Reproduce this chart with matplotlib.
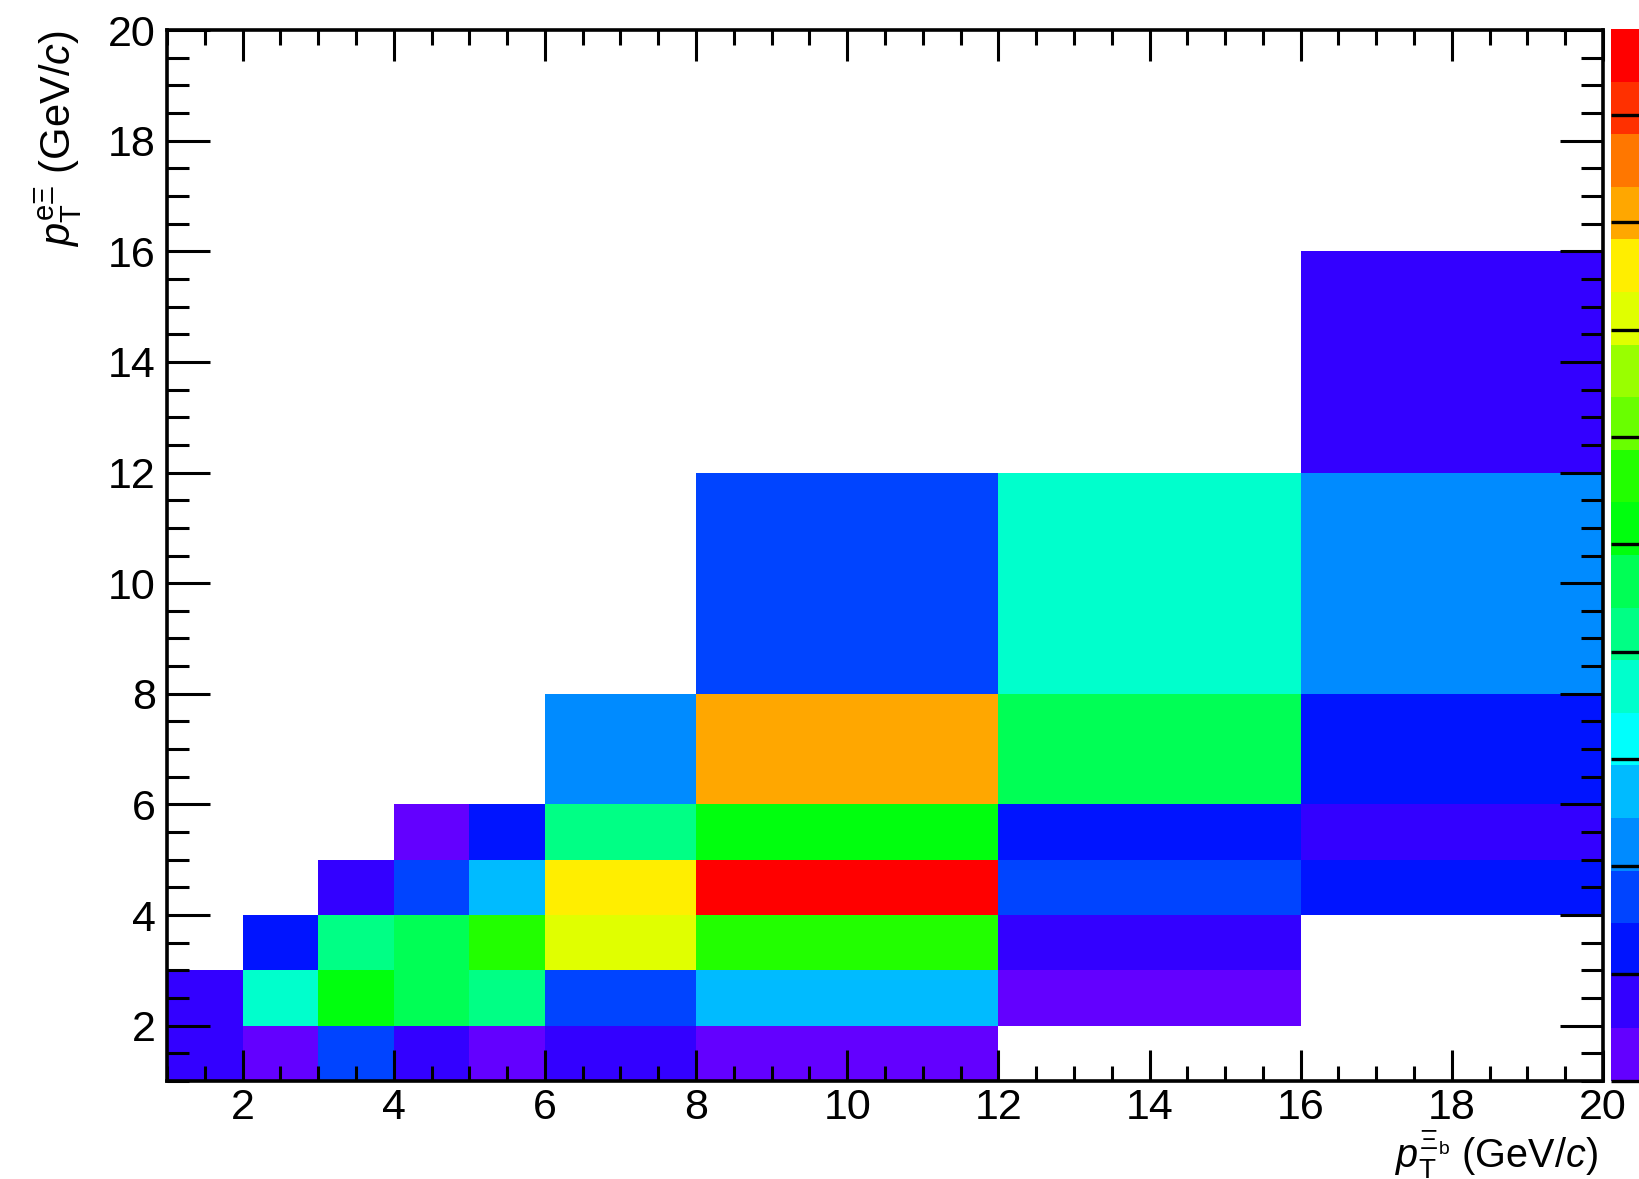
import colorsys
import numpy as np
import matplotlib
matplotlib.use("Agg")
import matplotlib.pyplot as plt
from matplotlib.colors import ListedColormap, BoundaryNorm
from matplotlib.ticker import MultipleLocator

plt.rcParams['font.family'] = ['Liberation Sans', 'DejaVu Sans']
plt.rcParams['mathtext.fontset'] = 'custom'
plt.rcParams['mathtext.rm'] = 'Liberation Sans'
plt.rcParams['mathtext.it'] = 'Liberation Sans:italic'
plt.rcParams['mathtext.bf'] = 'Liberation Sans:bold'

# ---- data ----
x_edges = [1, 2, 3, 4, 5, 6, 8, 12, 16, 20]
y_edges = [1, 2, 3, 4, 5, 6, 8, 12, 16, 20]
nan = np.nan
# rows: y bins (bottom -> top), columns: x bins (left -> right)
row_y1_2   = [0.74, 0.25, 1.7, 0.74, 0.25, 0.74, 0.25, nan, nan]
row_y2_3   = [0.74, 3.7, 5.15, 4.65, 4.2, 1.7, 2.7, 0.25, nan]
row_y3_4   = [nan, 1.2, 4.2, 4.65, 5.6, 7.1, 5.6, 0.74, nan]
row_y4_5   = [nan, nan, 0.74, 1.7, 2.7, 7.6, 9.6, 1.7, 1.2]
row_y5_6   = [nan, nan, nan, 0.25, 1.2, 4.2, 5.15, 1.2, 0.74]
row_y6_8   = [nan, nan, nan, nan, nan, 2.2, 8.1, 4.65, 1.2]
row_y8_12  = [nan, nan, nan, nan, nan, nan, 1.7, 3.7, 2.2]
row_y12_16 = [nan, nan, nan, nan, nan, nan, nan, nan, 0.74]
row_y16_20 = [nan, nan, nan, nan, nan, nan, nan, nan, nan]
z_min, z_max, n_contours = 0.0, 9.8, 20
cbar_ticks = [0, 1, 2, 3, 4, 5, 6, 7, 8, 9]
x_ticks = [2, 4, 6, 8, 10, 12, 14, 16, 18, 20]
y_ticks = [2, 4, 6, 8, 10, 12, 14, 16, 18, 20]

Z = np.ma.masked_invalid(np.array([row_y1_2, row_y2_3, row_y3_4, row_y4_5, row_y5_6,
                                   row_y6_8, row_y8_12, row_y12_16, row_y16_20]))

# ROOT "pretty" palette (HLS hues 280 -> 0), 20 contours
hues = [280 - (i + 1) * 280 / 50 for i in range(50)]
pal = [colorsys.hls_to_rgb(h / 360.0, 0.5, 1.0) for h in hues]
cols = [pal[int((j + 0.99) * 50 / n_contours)] for j in range(n_contours)]
cmap = ListedColormap(cols)
levels = np.linspace(z_min, z_max, n_contours + 1)
norm = BoundaryNorm(levels, cmap.N)

W, H = 1639, 1179
fig = plt.figure(figsize=(W / 100, H / 100), dpi=100)
ax = fig.add_axes([167 / W, (H - 1081) / H, 1436 / W, 1051 / H])
mesh = ax.pcolormesh(x_edges, y_edges, Z, cmap=cmap, norm=norm)
ax.set_xlim(1, 20)
ax.set_ylim(1, 20)
ax.set_xticks(x_ticks)
ax.set_yticks(y_ticks)
ax.xaxis.set_minor_locator(MultipleLocator(0.5))
ax.yaxis.set_minor_locator(MultipleLocator(0.5))
for s in ax.spines.values():
    s.set_linewidth(2.6)
ax.tick_params(axis='both', which='both', direction='in', top=True, right=True,
               width=2.2, labelsize=31)
ax.tick_params(axis='x', which='major', length=22, pad=5)
ax.tick_params(axis='x', which='minor', length=11)
ax.tick_params(axis='y', which='major', length=31, pad=8)
ax.tick_params(axis='y', which='minor', length=16)

# colour palette (cut off at the right edge as in the reference)
cax = fig.add_axes([1611 / W, (H - 1081) / H, 60 / W, 1052 / H])
cb = fig.colorbar(mesh, cax=cax, ticks=cbar_ticks)
cb.outline.set_visible(False)
cax.yaxis.set_ticks_position('left')
cax.tick_params(axis='y', which='major', direction='in', length=24, width=2.4,
                labelleft=False, labelright=False)
cax.minorticks_off()

fig.text(1598 / W, 1 - 1168 / H, r'$p_{\mathrm{T}}^{\Xi_{\mathrm{b}}}$ (GeV/$c$)',
         ha='right', va='baseline', fontsize=28.5)
fig.text(58 / W, 1 - 30 / H, r'$p_{\mathrm{T}}^{\mathrm{e}\Xi}$ (GeV/$c$)',
         ha='center', va='top', rotation=90, fontsize=30)

fig.savefig('out.png', dpi=100)
